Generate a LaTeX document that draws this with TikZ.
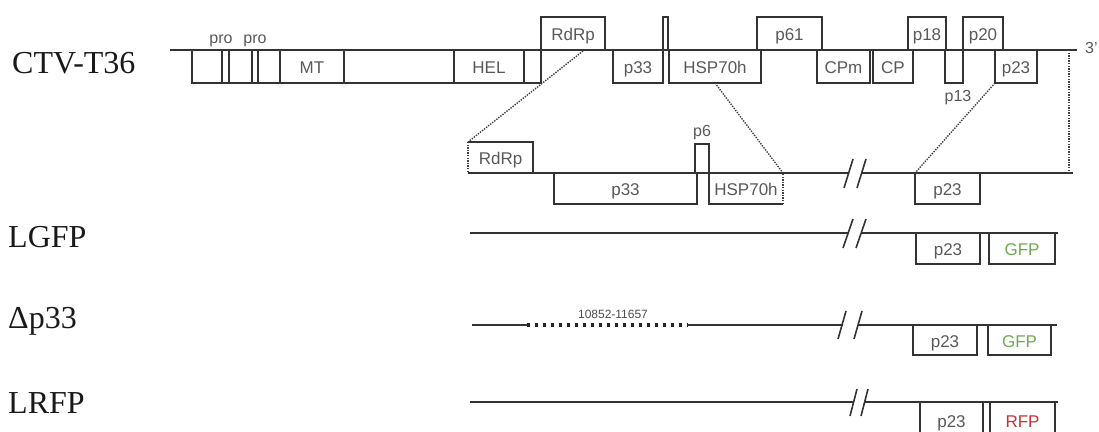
\documentclass[tikz,border=0pt]{standalone}
\usepackage{fontspec}
\setmainfont{Liberation Serif}
\setsansfont{Liberation Sans}
\newcommand\gorf[7]{%
  \pgfmathsetmacro\orfw{#4-#2}%
  \pgfmathsetmacro\orfh{#5-#3}%
  \node[orf,#7,minimum width=\orfw pt,minimum height=\orfh pt] (#1) at ({(#2+#4)/2},{(#3+#5)/2}) {#6};}
\begin{document}
\begin{tikzpicture}[x=1pt,y=-1pt,
  gline/.style={line width=1.6pt, draw=black!80},
  orf/.style={draw=black!80, line width=1.6pt, inner sep=0pt, outer sep=0pt,
    font=\sffamily\fontsize{17}{17}\selectfont, text=black!65, text height=14pt, text depth=0pt},
  nodraw/.style={draw=none},
  dotl/.style={line width=1.4pt, draw=black!75, dash pattern=on 1.4pt off 1.2pt},
  bigdots/.style={line width=3.2pt, draw=black!85, dash pattern=on 3pt off 5pt},
  title/.style={font=\fontsize{32}{32}\selectfont, anchor=base west, inner sep=0pt, text=black!90},
  small/.style={font=\sffamily\fontsize{16}{16}\selectfont, text=black!65, inner sep=0pt},
  tiny/.style={font=\sffamily\fontsize{12}{12}\selectfont, text=black!70, inner sep=0pt},
  brk/.style={line width=1.6pt, draw=black!80},
]
\useasboundingbox (0,0) rectangle (1099,431);

% ---------- titles ----------
\node[title] (tctv) at (12,73) {CTV-T36};
\node[title] (tlgfp) at (8,247) {LGFP};
\node[title] (tdp33) at (8,328) {Δp33};
\node[title] (tlrfp) at (8,413) {LRFP};

% ---------- top row: full genome ----------
\coordinate (g1s) at (170,50);
\coordinate (g1e) at (1077,50);
\draw[gline] (g1s) -- (g1e);
\gorf{s1}{192}{50}{222}{83}{}{}
\gorf{s2}{222}{50}{229}{83}{}{}
\gorf{s3}{229}{50}{252}{83}{}{}
\gorf{s4}{252}{50}{258}{83}{}{}
\gorf{s5}{258}{50}{280}{83}{}{}
\gorf{mt}{280}{50}{344}{83}{MT}{}
\gorf{s7}{344}{50}{454}{83}{}{}
\gorf{hel}{454}{50}{524}{83}{HEL}{}
\gorf{s9}{524}{50}{541}{83}{}{}
\gorf{rdrp}{541}{17}{605}{50}{RdRp}{}
\gorf{pa}{613}{50}{663}{83}{p33}{}
\gorf{psix}{663}{17}{668}{50}{}{}
\gorf{hsp}{669}{50}{761}{83}{HSP70h}{}
\gorf{psixtyone}{757}{17}{822}{50}{p61}{}
\gorf{cpm}{817}{50}{870}{83}{CPm}{}
\gorf{cp}{873}{50}{913}{83}{CP}{}
\gorf{peighteen}{908}{17}{946}{50}{p18}{}
\gorf{pthirteen}{945}{50}{963}{83}{}{}
\gorf{ptwenty}{963}{17}{1003}{50}{p20}{}
\gorf{ptwentythree}{995}{50}{1037}{83}{p23}{}
\node[small] (lpro1) at (221,41) {pro};
\node[small] (lpro2) at (255,41) {pro};
\node[small] (lp13) at (958,98) {p13};
\node[small, anchor=west] (l3) at (1085,48) {3'};

% ---------- second row: expanded 3' region ----------
\coordinate (r2s) at (468,173);
\coordinate (r2b1) at (848,173);
\coordinate (r2b2) at (861,173);
\coordinate (r2e) at (1069,173);
\draw[gline] (r2s) -- (r2b1);
\draw[gline] (r2b2) -- (1073,173);
\draw[brk] (853,159) -- (844,188);
\draw[brk] (866,159) -- (857,188);

\gorf{rdrpb}{468}{142}{533}{173}{RdRp}{nodraw}
\draw[line width=1.6pt, draw=black!80] (rdrpb.south east) -- (rdrpb.north east) -- (rdrpb.north west);
\draw[dotl] (rdrpb.north west) -- (rdrpb.south west);
\gorf{pab}{554}{173}{697}{204}{p33}{}
\gorf{psixb}{695}{144}{709}{173}{}{}
\node[small] (lp6) at (702,133) {p6};
\gorf{hspb}{709}{173}{783}{204}{HSP70h}{nodraw}
\draw[line width=1.6pt, draw=black!80] (hspb.north east) -- (hspb.north west) -- (hspb.south west) -- (hspb.south east);
\draw[dotl] (hspb.south east) -- (hspb.north east);
\gorf{ptwentythreeb}{915}{173}{980}{204}{p23}{}

% dotted zoom connectors
\coordinate (rdrpfoot) at (583,51);
\draw[dotl] (rdrpfoot) -- (rdrpb.north west);
\draw[dotl] (hsp.south) -- (hspb.north east);
\draw[dotl] (ptwentythree.south west) -- (ptwentythreeb.north west);
\coordinate (g1r) at (1069,50);
\draw[dotl] (g1r) -- (r2e);

% ---------- LGFP ----------
\coordinate (l3s) at (470,233);
\coordinate (l3b1) at (848,233);
\coordinate (l3b2) at (861,233);
\coordinate (l3e) at (1058,233);
\draw[gline] (l3s) -- (l3b1);
\draw[gline] (l3b2) -- (l3e);
\draw[brk] (853,219) -- (843,248);
\draw[brk] (866,219) -- (856,248);
\gorf{lgp23}{916}{233}{980}{264}{p23}{}
\gorf{lggfp}{989}{233}{1055}{264}{GFP}{text={rgb,255:red,110;green,170;blue,80}}

% ---------- Delta p33 ----------
\coordinate (d4s) at (472,325);
\coordinate (d4d1) at (527,325);
\coordinate (d4d2) at (688,325);
\coordinate (d4b1) at (843,325);
\coordinate (d4b2) at (858,325);
\coordinate (d4e) at (1057,325);
\draw[gline] (d4s) -- (d4d1);
\draw[bigdots] (d4d1) -- (d4d2);
\draw[gline] (d4d2) -- (d4b1);
\draw[gline] (d4b2) -- (d4e);
\draw[brk] (846,311) -- (838,339);
\draw[brk] (862,311) -- (854,339);
\node[tiny] (ldel) at (613,314) {10852-11657};
\gorf{dp23}{913}{325}{977}{355}{p23}{}
\gorf{dgfp}{988}{325}{1051}{355}{GFP}{text={rgb,255:red,110;green,170;blue,80}}

% ---------- LRFP ----------
\coordinate (r5s) at (470,402);
\coordinate (r5b1) at (853,402);
\coordinate (r5b2) at (864,402);
\coordinate (r5e) at (1058,402);
\draw[gline] (r5s) -- (r5b1);
\draw[gline] (r5b2) -- (r5e);
\draw[brk] (857,389) -- (850,416);
\draw[brk] (868,389) -- (861,416);
\gorf{rp23}{920}{402}{983}{440}{}{}
\node[orf, draw=none] (lrp23) at (951.5,420) {p23};
\gorf{rrfp}{990}{402}{1055}{440}{}{}
\node[orf, draw=none, text={rgb,255:red,200;green,50;blue,50}] (lrrfp) at (1022.5,420) {RFP};
\end{tikzpicture}
\end{document}
